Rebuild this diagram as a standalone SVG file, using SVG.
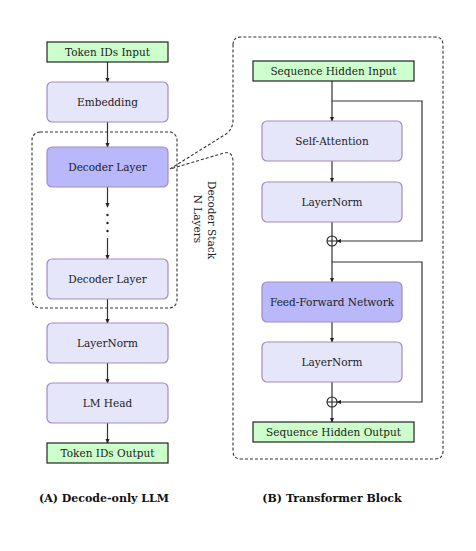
<svg xmlns="http://www.w3.org/2000/svg" width="476" height="551" viewBox="0 0 476 551">
<defs>
<style>
text{font-family:"DejaVu Serif","Liberation Serif",serif;font-size:10.5px;fill:#222;text-anchor:middle}
.cap{font-weight:bold;font-size:11px;fill:#111}
.io{fill:#ccffcc;stroke:#222;stroke-width:1.2}
.blk{fill:#e6e6fb;stroke:#a48ac0;stroke-width:1.2}
.hl{fill:#b8b8fa;stroke:#a48ac0;stroke-width:1.2}
.dash{fill:none;stroke:#333;stroke-width:1.1;stroke-dasharray:3,2}
.c{fill:none;stroke:#333;stroke-width:1.2}
.a{fill:none;stroke:#333;stroke-width:1.2;marker-end:url(#ah)}
</style>
<marker id="ah" viewBox="0 0 8 8" refX="7" refY="4" markerWidth="5" markerHeight="5" orient="auto" markerUnits="userSpaceOnUse">
<path d="M0,0.5 L8,4 L0,7.5 Z" fill="#222"/>
</marker>
</defs>
<rect width="476" height="551" fill="#fff"/>

<!-- dashed containers -->
<g id="decoder-stack-frame">
<rect class="dash" x="32" y="132" width="145" height="176" rx="8"/>
<text transform="translate(212,220) rotate(90)" dominant-baseline="central">Decoder Stack</text>
<text transform="translate(198,219) rotate(90)" dominant-baseline="central">N Layers</text>
</g>
<g id="transformer-block-frame">
<path class="dash" d="M233,45 Q233,37 241,37 H435 Q443,37 443,45 V451 Q443,459 435,459 H241 Q233,459 233,451 V162 Q233,151 224,153 L170,169 L226,134 Q233,129 233,120 Z"/>
</g>

<!-- connectors -->
<g id="connectors">
<line class="a" x1="107.5" y1="62" x2="107.5" y2="82"/>
<line class="a" x1="107.5" y1="122" x2="107.5" y2="147"/>
<line class="a" x1="107.5" y1="187" x2="107.5" y2="207"/>
<circle cx="107.5" cy="215" r="1.2" fill="#222"/>
<circle cx="107.5" cy="223" r="1.2" fill="#222"/>
<circle cx="107.5" cy="231" r="1.2" fill="#222"/>
<line class="a" x1="107.5" y1="238" x2="107.5" y2="259"/>
<line class="a" x1="107.5" y1="299" x2="107.5" y2="323"/>
<line class="a" x1="107.5" y1="363" x2="107.5" y2="383"/>
<line class="a" x1="107.5" y1="423" x2="107.5" y2="443"/>

<line class="a" x1="332" y1="81" x2="332" y2="121"/>
<path class="a" d="M332,101 H422 V241 H337"/>
<line class="a" x1="332" y1="161" x2="332" y2="182"/>
<line class="c" x1="332" y1="222" x2="332" y2="236"/>
<line class="a" x1="332" y1="246" x2="332" y2="282"/>
<path class="a" d="M332,262 H422 V402 H337"/>
<line class="a" x1="332" y1="322" x2="332" y2="342"/>
<line class="c" x1="332" y1="382" x2="332" y2="397"/>
<line class="a" x1="332" y1="407" x2="332" y2="422"/>
</g>

<!-- left column nodes -->
<g id="token-ids-input"><rect class="io" x="47" y="42" width="121" height="20"/><text x="107.5" y="55.8">Token IDs Input</text></g>
<g id="embedding"><rect class="blk" x="47" y="82" width="121" height="40" rx="5"/><text x="107.5" y="105.8">Embedding</text></g>
<g id="decoder-layer-1"><rect class="hl" x="47" y="147" width="121" height="40" rx="5"/><text x="107.5" y="170.8">Decoder Layer</text></g>
<g id="decoder-layer-n"><rect class="blk" x="47" y="259" width="121" height="40" rx="5"/><text x="107.5" y="282.8">Decoder Layer</text></g>
<g id="layernorm-final"><rect class="blk" x="47" y="323" width="121" height="40" rx="5"/><text x="107.5" y="346.8">LayerNorm</text></g>
<g id="lm-head"><rect class="blk" x="47" y="383" width="121" height="40" rx="5"/><text x="107.5" y="406.8">LM Head</text></g>
<g id="token-ids-output"><rect class="io" x="47" y="443" width="121" height="20"/><text x="107.5" y="456.8">Token IDs Output</text></g>

<!-- right column nodes -->
<g id="seq-hidden-input"><rect class="io" x="253" y="61" width="161" height="20"/><text x="333.5" y="74.8">Sequence Hidden Input</text></g>
<g id="self-attention"><rect class="blk" x="262" y="121" width="140" height="40" rx="5"/><text x="332" y="144.8">Self-Attention</text></g>
<g id="layernorm-1"><rect class="blk" x="262" y="182" width="140" height="40" rx="5"/><text x="332" y="205.8">LayerNorm</text></g>
<g id="add-1"><circle cx="332" cy="241" r="5" fill="#fff" stroke="#222" stroke-width="1.1"/><path d="M327,241 H337 M332,236 V246" stroke="#222" stroke-width="1.1"/></g>
<g id="ffn"><rect class="hl" x="262" y="282" width="140" height="40" rx="5"/><text x="332" y="305.8">Feed-Forward Network</text></g>
<g id="layernorm-2"><rect class="blk" x="262" y="342" width="140" height="40" rx="5"/><text x="332" y="365.8">LayerNorm</text></g>
<g id="add-2"><circle cx="332" cy="402" r="5" fill="#fff" stroke="#222" stroke-width="1.1"/><path d="M327,402 H337 M332,397 V407" stroke="#222" stroke-width="1.1"/></g>
<g id="seq-hidden-output"><rect class="io" x="253" y="422" width="161" height="20"/><text x="333.5" y="435.8">Sequence Hidden Output</text></g>

<!-- captions -->
<text class="cap" x="104" y="502">(A) Decode-only LLM</text>
<text class="cap" x="332" y="502">(B) Transformer Block</text>
</svg>
